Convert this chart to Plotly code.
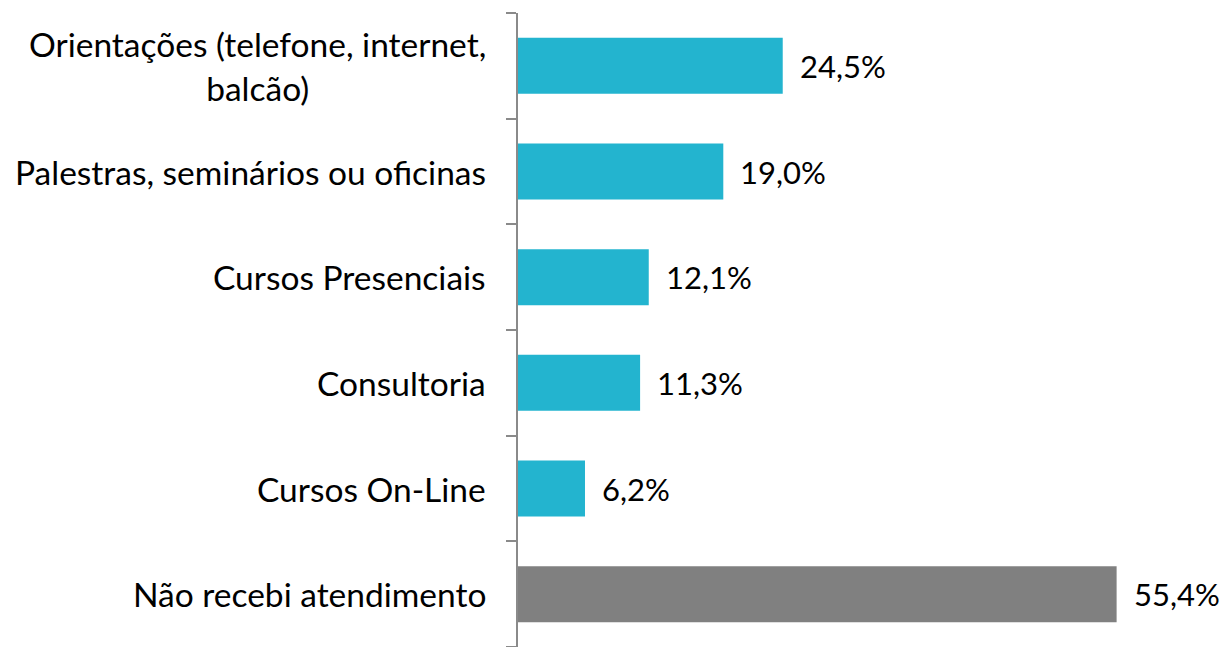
import plotly.graph_objects as go

categories = [
    "Orientações (telefone, internet,<br>balcão)",
    "Palestras, seminários ou oficinas",
    "Cursos Presenciais",
    "Consultoria",
    "Cursos On-Line",
    "Não recebi atendimento",
]
values = [24.5, 19.0, 12.1, 11.3, 6.2, 55.4]
labels = ["24,5%", "19,0%", "12,1%", "11,3%", "6,2%", "55,4%"]
colors = ["#23B4CF"] * 5 + ["#808080"]

FONT = "Lato"
FS = 33.5
FS_VAL = 31
fig = go.Figure(go.Bar(
    y=list(range(len(categories))), x=values, orientation="h",
    marker=dict(color=colors, line=dict(width=0)),
    hoverinfo="skip",
))

annotations = []
for i, (v, lab) in enumerate(zip(values, labels)):
    annotations.append(dict(x=v, y=i, xref="x", yref="y", text=lab, showarrow=False,
                            xanchor="left", yanchor="middle", xshift=15,
                            font=dict(family=FONT, size=FS_VAL, color="#000000")))
for i, cat in enumerate(categories):
    annotations.append(dict(x=0, y=i, xref="paper", yref="y", text=cat, showarrow=False,
                            xanchor="right", yanchor="middle", xshift=-30, align="center",
                            font=dict(family=FONT, size=FS, color="#000000")))

fig.update_layout(
    width=1221, height=639,
    margin=dict(l=510, r=0, t=5, b=0, autoexpand=False),
    paper_bgcolor="white", plot_bgcolor="white",
    bargap=0.47,
    showlegend=False,
    annotations=annotations,
    xaxis=dict(range=[0, 65.8], visible=False, fixedrange=True, automargin=False),
    yaxis=dict(
        range=[5.5, -0.5], automargin=False,
        tickmode="array", tickvals=[-0.5 + k for k in range(7)], ticktext=[""] * 7,
        ticks="outside", ticklen=10, tickwidth=2, tickcolor="#8A8A8A",
        showline=True, linecolor="#8A8A8A", linewidth=2,
        showgrid=False, zeroline=False, showticklabels=False,
    ),
)

fig.write_html("out.html")
